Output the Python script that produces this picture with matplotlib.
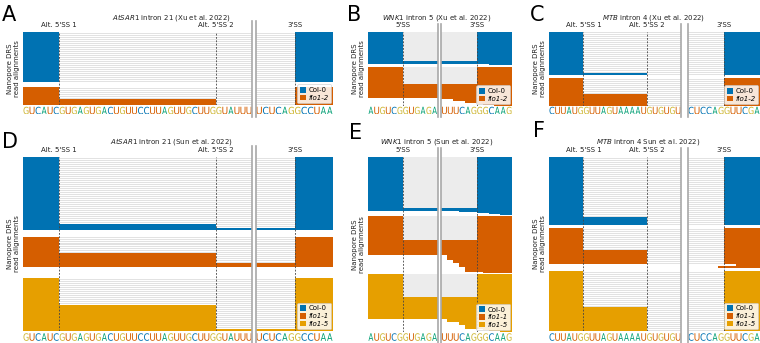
import matplotlib.pyplot as plt
from matplotlib.patches import Rectangle, PathPatch, Patch
from matplotlib.textpath import TextPath
from matplotlib.font_manager import FontProperties
from matplotlib.transforms import Affine2D
from matplotlib.lines import Line2D

W, H = 760, 343

geno_colors = {'Col-0': '#0072B2', 'fio1-1': '#D55E00', 'fio1-2': '#D55E00', 'fio1-5': '#E69F00'}
nt_colors = {'A': '#009E73', 'C': '#0072B2', 'G': '#CDB52F', 'U': '#D55E00'}

# sequence under each panel: upstream window | downstream window
sar1_seq = ['GUCAUCGUGAGUGACUGUUCCUUAGUUGCUUGGUAUUU', 'UCUCAGGCCUAA']
wnk1_seq = ['AUGUCGGUGAGA', 'UUUCAGGGCAAG']
mtb_seq = ['CUUAUGGUUAGUAAAAUGUGUGU', 'CUCCAGGUUCGA']

# splice sites (nt from left edge of window)
sar1_sites = [6, 32, 44]
sar1_site_names = ["Alt. 5'SS 1", "Alt. 5'SS 2", "3'SS"]
wnk1_sites = [6, 18]
wnk1_site_names = ["5'SS", "3'SS"]
mtb_sites = [6, 17, 29]
mtb_site_names = ["Alt. 5'SS 1", "Alt. 5'SS 2", "3'SS"]

# read classes: (n reads, start, end, [(intron start, intron end), ...])
a_col0 = [(25, 0, 50, [(6, 44)])]
a_fio12 = [(6, 0, 50, [(6, 44)]), (3, 0, 50, [(32, 44)])]

b_col0 = [(29, 0, 24, [(6, 18)]), (3, 0, 24, []), (1, 20, 24, [])]
b_fio12 = [(17, 0, 24, [(6, 18)]), (14, 0, 24, []), (1, 12, 24, []), (2, 14, 24, []),
           (2, 16, 24, []), (1, 18, 24, []), (1, 19, 24, []), (1, 21, 24, [])]

c_col0 = [(21, 0, 35, [(6, 29)]), (1, 0, 35, [(17, 29)])]
c_fio12 = [(8, 0, 35, [(6, 29)]), (6, 0, 35, [(17, 29)])]

d_col0 = [(33, 0, 50, [(6, 44)]), (2, 0, 50, [(32, 44)]), (1, 0, 50, [])]
d_fio11 = [(8, 0, 50, [(6, 44)]), (5, 0, 50, [(32, 44)]), (2, 0, 50, [])]
d_fio15 = [(13, 0, 50, [(6, 44)]), (12, 0, 50, [(32, 44)]), (1, 0, 50, [])]

e_col0 = [(51, 0, 24, [(6, 18)]), (3, 0, 24, []), (1, 15, 24, []), (1, 18, 24, []),
          (1, 20, 24, []), (1, 22, 24, [])]
e_fio11 = [(24, 0, 24, [(6, 18)]), (15, 0, 24, []), (5, 13, 24, []), (3, 14, 24, []),
           (4, 15, 24, []), (5, 16, 24, []), (1, 19, 24, [])]
e_fio15 = [(23, 0, 24, [(6, 18)]), (22, 0, 24, []), (3, 13, 24, []), (3, 15, 24, []),
           (4, 16, 24, []), (1, 19, 24, []), (1, 20, 24, []), (1, 22, 24, [])]

f_col0 = [(30, 0, 35, [(6, 29)]), (4, 0, 35, [(17, 29)])]
f_fio11 = [(11, 0, 35, [(6, 29)]), (7, 0, 35, [(17, 29)]), (1, 31, 35, []), (1, 28, 35, [])]
f_fio15 = [(18, 0, 35, [(6, 29)]), (12, 0, 35, [(17, 29)])]

panels = [
    dict(letter='A', title=r'$\it{AtSAR1}$ intron 21 (Xu et al. 2022)', seq=sar1_seq,
         sites=sar1_sites, names=sar1_site_names,
         groups=[('Col-0', a_col0), ('fio1-2', a_fio12)], gaps=[2.5], dense=False),
    dict(letter='B', title=r'$\it{WNK1}$ intron 5 (Xu et al. 2022)', seq=wnk1_seq,
         sites=wnk1_sites, names=wnk1_site_names,
         groups=[('Col-0', b_col0), ('fio1-2', b_fio12)], gaps=[2], dense=True),
    dict(letter='C', title=r'$\it{MTB}$ intron 4 (Xu et al. 2022)', seq=mtb_seq,
         sites=mtb_sites, names=mtb_site_names,
         groups=[('Col-0', c_col0), ('fio1-2', c_fio12)], gaps=[1.5], dense=False),
    dict(letter='D', title=r'$\it{AtSAR1}$ intron 21 (Sun et al. 2022)', seq=sar1_seq,
         sites=sar1_sites, names=sar1_site_names,
         groups=[('Col-0', d_col0), ('fio1-1', d_fio11), ('fio1-5', d_fio15)], gaps=[3.5, 5.5], dense=False),
    dict(letter='E', title=r'$\it{WNK1}$ intron 5 (Sun et al. 2022)', seq=wnk1_seq,
         sites=wnk1_sites, names=wnk1_site_names,
         groups=[('Col-0', e_col0), ('fio1-1', e_fio11), ('fio1-5', e_fio15)], gaps=[1, 1], dense=True),
    dict(letter='F', title=r'$\it{MTB}$ intron 4 Sun et al. 2022)', seq=mtb_seq,
         sites=mtb_sites, names=mtb_site_names,
         groups=[('Col-0', f_col0), ('fio1-1', f_fio11), ('fio1-5', f_fio15)], gaps=[1.5, 1.5], dense=False),
]

# pixel layout: left axes x, right axes x, main y, sequence y, break-line y, title xy, letter xy
layout = [
    dict(l=(23, 252), r=(256, 333), y=(32, 105), sy=(106.5, 114.5), brk=(21, 117), tt=(171, 19.5), let=(2, 21)),
    dict(l=(368, 437.5), r=(441.5, 512), y=(32, 106), sy=(106.5, 114.5), brk=(24, 117), tt=(437, 19.5), let=(347, 21)),
    dict(l=(549, 681), r=(688, 760), y=(32, 106), sy=(106.5, 114.5), brk=(24, 117), tt=(654, 19.5), let=(530, 21)),
    dict(l=(23, 252), r=(256, 333), y=(157, 331), sy=(333, 341), brk=(146, 343), tt=(171, 143.5), let=(2, 148)),
    dict(l=(368, 437.5), r=(441.5, 512), y=(157, 332), sy=(333, 341), brk=(148, 343), tt=(437, 143.5), let=(349, 139)),
    dict(l=(549, 681), r=(688, 760), y=(157, 331), sy=(333, 341), brk=(148, 343), tt=(648, 143.5), let=(533, 137)),
]

fig = plt.figure(figsize=(7.6, 3.43), dpi=100)
fp = FontProperties(family='DejaVu Sans')


def px_ax(x0, x1, y0, y1):
    return fig.add_axes([x0 / W, 1 - y1 / H, (x1 - x0) / W, (y1 - y0) / H])


def draw_letter(ax, ch, x):
    tp = TextPath((0, 0), ch, size=1, prop=fp)
    bb = tp.get_extents()
    t = Affine2D().translate(-bb.x0, -bb.y0).scale(0.84 / bb.width, 0.95 / bb.height).translate(x + 0.08, 0.02)
    ax.add_patch(PathPatch(t.transform_path(tp), fc=nt_colors[ch], lw=0))


for p, lay in zip(panels, layout):
    nl = len(p['seq'][0])
    nr = len(p['seq'][1])
    ax_l = px_ax(lay['l'][0], lay['l'][1], *lay['y'])
    ax_r = px_ax(lay['r'][0], lay['r'][1], *lay['y'])
    axs = [ax_l, ax_r]

    y = 0
    for gi, (name, classes) in enumerate(p['groups']):
        c = geno_colors[name]
        for n, s, e, introns in classes:
            blocks = []
            pos = s
            for g0, g1 in introns:
                blocks.append((pos, g0))
                pos = g1
            blocks.append((pos, e))
            for ax in axs:
                for b0, b1 in blocks:
                    ax.add_patch(Rectangle((b0, y), b1 - b0, n, fc=c, lw=0, antialiased=False))
                for g0, g1 in introns:
                    if p['dense']:
                        ax.add_patch(Rectangle((g0, y), g1 - g0, n, fc='#ececec', lw=0, antialiased=False))
                    else:
                        for k in range(n):
                            ax.add_patch(Rectangle((g0, y + k + 0.25), g1 - g0, 0.5, fc='#e2e2e2', lw=0,
                                                   antialiased=False))
            y += n
        if gi < len(p['gaps']):
            y += p['gaps'][gi]
    total = y

    ax_l.set_xlim(0, nl)
    ax_r.set_xlim(nl, nl + nr)
    for ax in axs:
        ax.set_ylim(total, 0)
        ax.set_xticks([])
        ax.set_yticks([])
        for sp in ax.spines.values():
            sp.set_visible(False)

    for site, nm in zip(p['sites'], p['names']):
        ax = ax_l if site < nl else ax_r
        ax.axvline(site, color='#444444', lw=0.6, ls=(0, (2.2, 1.8)), zorder=5)
        ax.annotate(nm, xy=(site, 1), xycoords=('data', 'axes fraction'), xytext=(0, 3.5),
                    textcoords='offset points', ha='center', va='baseline', fontsize=5, color='#222222')

    ax_l.set_ylabel('Nanopore DRS\nread alignments', fontsize=5, labelpad=2, color='#222222')

    # sequence track
    s_l = px_ax(lay['l'][0], lay['l'][1], *lay['sy'])
    s_r = px_ax(lay['r'][0], lay['r'][1], *lay['sy'])
    for ax, seq, off in [(s_l, p['seq'][0], 0), (s_r, p['seq'][1], nl)]:
        ax.set_xlim(off, off + len(seq))
        ax.set_ylim(0, 1)
        ax.axis('off')
        for i, ch in enumerate(seq):
            draw_letter(ax, ch, off + i)

    # broken intron marks
    for bx in (lay['l'][1], lay['r'][0]):
        fig.add_artist(Line2D([bx / W, bx / W], [1 - lay['brk'][0] / H, 1 - lay['brk'][1] / H],
                              color='#a8a8a8', lw=1.2))

    handles = [Patch(fc=geno_colors[name], ec='none') for name, _ in p['groups']]
    leg = ax_r.legend(handles, [name for name, _ in p['groups']], loc='lower right', fontsize=5,
                      handlelength=0.9, handleheight=0.9, handletextpad=0.4, borderpad=0.35,
                      labelspacing=0.2, borderaxespad=0.25, framealpha=0.85, edgecolor='#cccccc')
    leg.get_frame().set_linewidth(0.5)
    for t in leg.get_texts():
        if t.get_text().startswith('fio'):
            t.set_fontstyle('italic')
    leg.set_zorder(10)

    fig.text(lay['tt'][0] / W, 1 - lay['tt'][1] / H, p['title'], ha='center', va='baseline',
             fontsize=5, color='#222222')
    fig.text(lay['let'][0] / W, 1 - lay['let'][1] / H, p['letter'], ha='left', va='baseline', fontsize=15)

fig.savefig('out.png', dpi=100)
